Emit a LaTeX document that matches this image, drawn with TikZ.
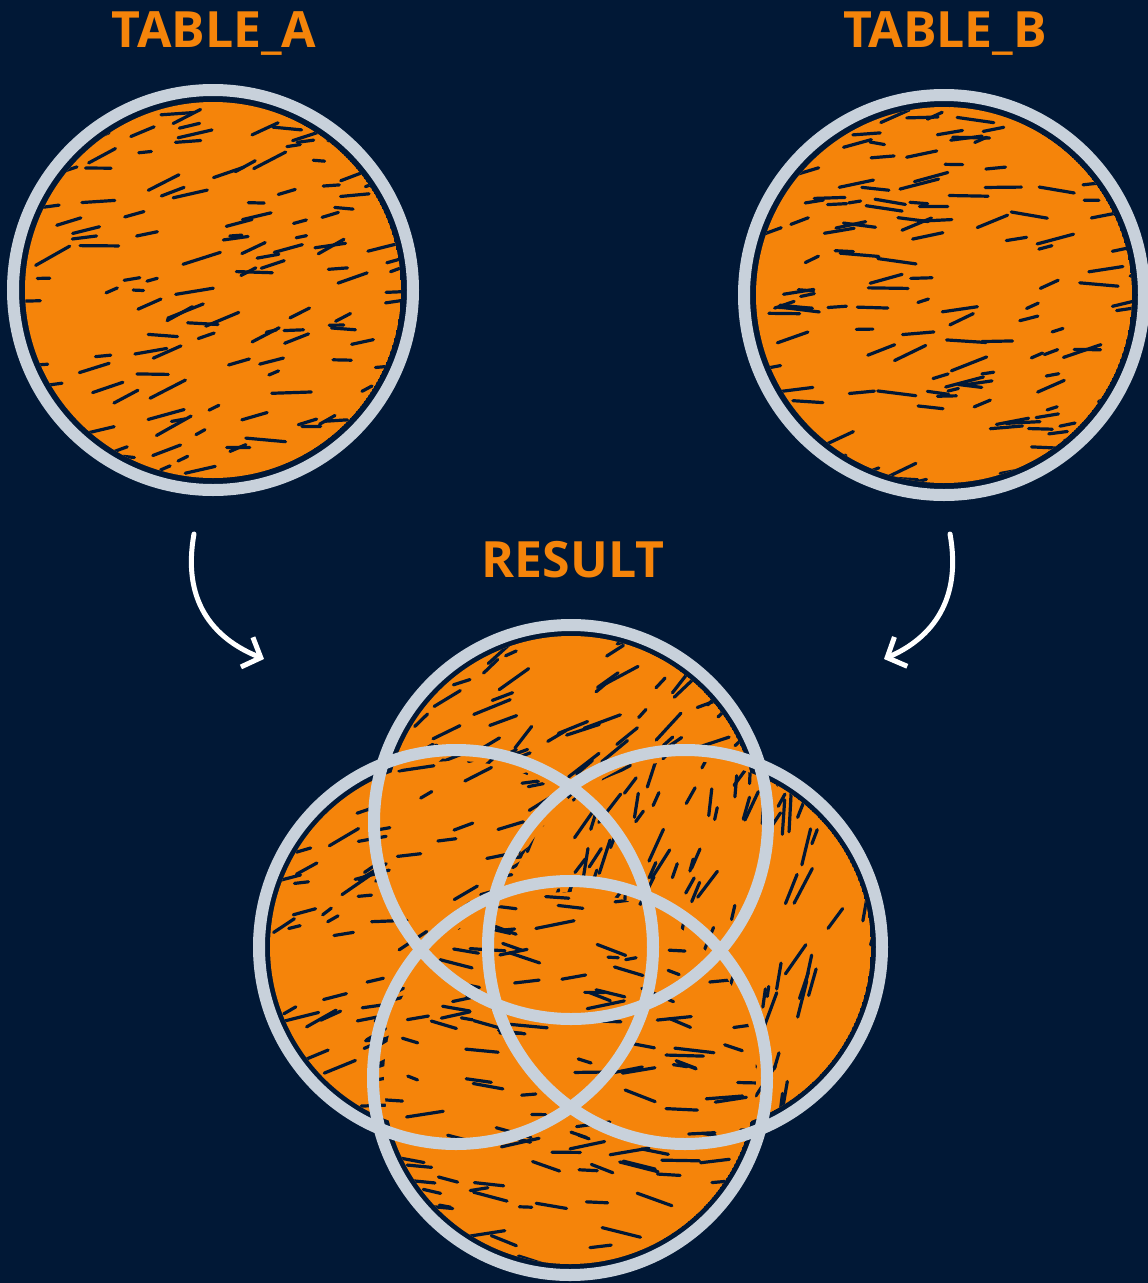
\documentclass[tikz,border=0pt]{standalone}
\usepackage{fontspec}
\setmainfont{Open Sans}
\usetikzlibrary{arrows.meta, calc}
\definecolor{bgnavy}{HTML}{011836}
\definecolor{fillorange}{HTML}{F5840A}
\definecolor{ringgray}{HTML}{C8D1DB}
\definecolor{fgwhite}{HTML}{FFFFFF}

% orange disc with dark scribble streaks: centre, seed, main angle, radius
\newcommand{\scribbledisc}[4]{%
  \begin{scope}
    \clip (#1) circle[radius=#4];
    \fill[fillorange] (#1) circle[radius=#4];
    \pgfmathsetseed{#2}
    \foreach \i in {1,...,150}{
      \pgfmathsetmacro{\stx}{rand*190}
      \pgfmathsetmacro{\sty}{rand*190}
      \pgfmathsetmacro{\sang}{#3+rand*18}
      \pgfmathsetmacro{\slen}{10+rnd*30}
      \draw[streak] ($(#1)+(\stx pt,\sty pt)$) -- ++(\sang:\slen pt);
    }
  \end{scope}}

\begin{document}
\begin{tikzpicture}[
  x=1pt, y=-1pt,
  title/.style={font=\fontsize{50}{56}\selectfont\bfseries, text=fillorange, anchor=base},
  ring/.style={draw=ringgray, line width=12pt},
  streak/.style={bgnavy, line width=3.2pt, line cap=round},
  curvearr/.style={fgwhite, line width=5pt, line cap=round, -{Straight Barb[length=15pt, width=32pt, line width=5pt]}},
]
  \useasboundingbox (0,0) rectangle (1148,1283);
  \fill[bgnavy] (0,0) rectangle (1148,1283);

  % Titles
  \node[title] (la) at (214,47) {TABLE\_A};
  \node[title] (lb) at (945,47) {TABLE\_B};
  \node[title] (lres) at (573,577) {RESULT};

  % Source tables
  \coordinate (ta) at (213,290);
  \coordinate (tb) at (944,295);
  \scribbledisc{ta}{11}{12}{188pt}
  \scribbledisc{tb}{23}{8}{188pt}
  \draw[ring] (ta) circle[radius=200pt];
  \draw[ring] (tb) circle[radius=200pt];

  % Result
  \coordinate (vt) at (571,822);
  \coordinate (vl) at (456,947);
  \coordinate (vr) at (685,947);
  \coordinate (vb) at (570,1078);
  \scribbledisc{vt}{31}{35}{186pt}
  \scribbledisc{vl}{47}{20}{186pt}
  \scribbledisc{vr}{53}{70}{186pt}
  \scribbledisc{vb}{67}{-5}{186pt}
  \draw[ring] (vt) circle[radius=197pt];
  \draw[ring] (vl) circle[radius=197pt];
  \draw[ring] (vr) circle[radius=197pt];
  \draw[ring] (vb) circle[radius=197pt];

  % Arrows into the result
  \coordinate (arra) at (194,534);
  \coordinate (arraend) at (264,659);
  \coordinate (arrb) at (950,534);
  \coordinate (arrbend) at (884,659);
  \draw[curvearr] (arra) .. controls (182,600) and (212,638) .. (arraend);
  \draw[curvearr] (arrb) .. controls (962,600) and (932,638) .. (arrbend);
\end{tikzpicture}
\end{document}
